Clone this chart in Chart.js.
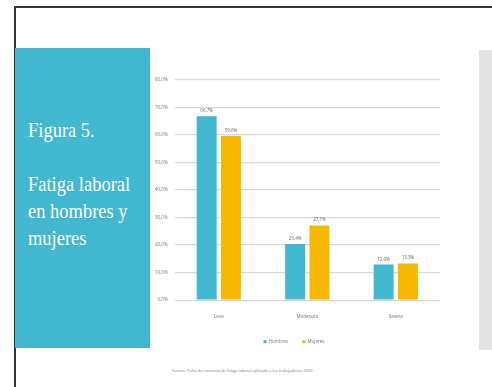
<!DOCTYPE html>
<html>
<head>
<meta charset="utf-8">
<script src="https://cdn.jsdelivr.net/npm/chart.js@4.4.1/dist/chart.umd.min.js"></script>
<style>
  html, body { margin: 0; padding: 0; background: #fff; width: 492px; height: 387px; overflow: hidden; }
  #frame { position: absolute; left: 14px; top: 6px; width: 490px; height: 400px; border-left: 2px solid #333; border-top: 2px solid #333; box-sizing: border-box; }
  #side { position: absolute; left: 15px; top: 48px; width: 135px; height: 300px; background: #41b8d0; }
  #side div { position: absolute; left: 13px; color: #fff; font-family: "Liberation Serif", serif; font-size: 22px; line-height: 27px; transform: scaleX(0.84); transform-origin: left top; white-space: nowrap; }
  #gray { position: absolute; left: 479px; top: 50px; width: 13px; height: 300px; background: #e3e3e3; }
  #wrap { position: absolute; left: 148px; top: 70px; width: 296px; height: 286px; }
  #note { position: absolute; left: 172px; top: 368px; font-family: "Open Sans", sans-serif; font-size: 4px; color: #777; white-space: nowrap; }
</style>
</head>
<body>
<div id="frame"></div>
<div id="side">
  <div style="top:68px">Figura 5.</div>
  <div style="top:122px">Fatiga laboral<br>en hombres y<br>mujeres</div>
</div>
<div id="gray"></div>
<div id="wrap"><canvas id="chart" width="296" height="286"></canvas></div>
<div id="note">Fuente: Ficha de encuesta de fatiga laboral aplicada a los trabajadores 2023</div>
<script>
// data
const categories = ["Leve", "Moderada", "Severa"];
const seriesNames = ["Hombres", "Mujeres"];
const hombres = [66.7, 20.4, 12.9];
const mujeres = [59.6, 27.1, 13.3];
const yTicks = [0, 10, 20, 30, 40, 50, 60, 70, 80];

const colors = ["#41b8d0", "#f9b800"];

function pct(v) {
    return v.toFixed(1).replace(".", ",") + "%";
}

// value labels over bars
const barLabels = {
    id: "barLabels",
    afterDatasetsDraw(chart) {
        const ctx = chart.ctx;
        ctx.save();
        ctx.font = "4.5px 'Open Sans', sans-serif";
        ctx.fillStyle = "#666";
        ctx.textAlign = "center";
        ctx.textBaseline = "bottom";
        chart.data.datasets.forEach((ds, i) => {
            chart.getDatasetMeta(i).data.forEach((bar, j) => {
                ctx.fillText(pct(ds.data[j]), bar.x, bar.y - 3);
            });
        });
        ctx.restore();
    }
};

new Chart(document.getElementById("chart").getContext("2d"), {
    type: "bar",
    data: {
        labels: categories,
        datasets: [
            { label: seriesNames[0], data: hombres, backgroundColor: colors[0] },
            { label: seriesNames[1], data: mujeres, backgroundColor: colors[1] }
        ]
    },
    options: {
        responsive: false,
        animation: false,
        devicePixelRatio: 1,
        layout: { padding: { top: 4, right: 4, bottom: 2, left: 0 } },
        datasets: { bar: { categoryPercentage: 0.55, barPercentage: 0.82 } },
        scales: {
            y: {
                min: 0,
                max: 80,
                afterBuildTicks(axis) { axis.ticks = yTicks.map(v => ({ value: v })); },
                ticks: {
                    font: { size: 4.5, family: "'Open Sans', sans-serif" },
                    color: "#777",
                    padding: 7,
                    callback: v => pct(v)
                },
                grid: { color: "#d9d9d9", lineWidth: 1.2, drawTicks: false },
                border: { display: false }
            },
            x: {
                ticks: { font: { size: 4.5, family: "'Open Sans', sans-serif" }, color: "#777", padding: 6 },
                grid: { display: false },
                border: { display: false }
            }
        },
        plugins: {
            legend: {
                position: "bottom",
                labels: { boxWidth: 3, boxHeight: 3, padding: 14, font: { size: 4.5, family: "'Open Sans', sans-serif" }, color: "#777" }
            },
            tooltip: { enabled: false }
        }
    },
    plugins: [barLabels]
});
</script>
</body>
</html>
